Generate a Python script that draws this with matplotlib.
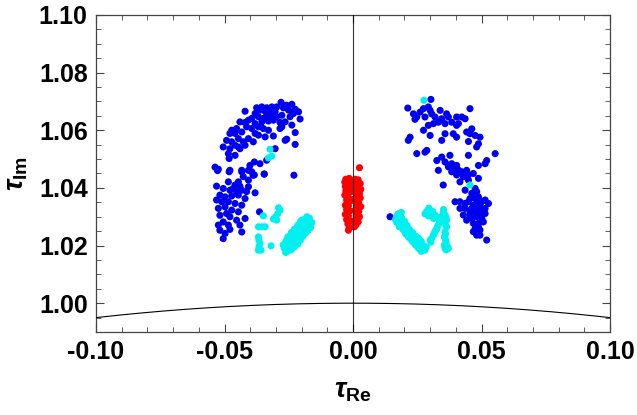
import numpy as np
import matplotlib
matplotlib.use("Agg")
import matplotlib.pyplot as plt
from matplotlib.ticker import MultipleLocator, FormatStrFormatter

plt.rcParams["font.family"] = ["Liberation Sans", "DejaVu Sans"]
plt.rcParams["mathtext.fontset"] = "custom"
plt.rcParams["mathtext.it"] = "Liberation Sans:italic:bold"
plt.rcParams["mathtext.rm"] = "Liberation Sans:bold"
plt.rcParams["mathtext.bf"] = "Liberation Sans:bold"

# (tau_Re, tau_Im) samples, one list per class
blue_pts = [
    # left arc
    (-0.0280, 1.0697), (-0.0238, 1.0690), (-0.0259, 1.0687), (-0.0297, 1.0681), (-0.0271, 1.0678),
    (-0.0316, 1.0681), (-0.0336, 1.0678), (-0.0355, 1.0681), (-0.0375, 1.0678), (-0.0420, 1.0666),
    (-0.0251, 1.0670), (-0.0225, 1.0673), (-0.0212, 1.0664), (-0.0232, 1.0658), (-0.0303, 1.0664),
    (-0.0323, 1.0670), (-0.0342, 1.0666), (-0.0362, 1.0670), (-0.0381, 1.0658), (-0.0394, 1.0641),
    (-0.0368, 1.0647), (-0.0349, 1.0641), (-0.0336, 1.0652), (-0.0316, 1.0652), (-0.0297, 1.0647),
    (-0.0277, 1.0652), (-0.0245, 1.0647), (-0.0206, 1.0639), (-0.0264, 1.0629), (-0.0284, 1.0627),
    (-0.0310, 1.0635), (-0.0329, 1.0632), (-0.0355, 1.0629), (-0.0381, 1.0623), (-0.0407, 1.0635),
    (-0.0420, 1.0627), (-0.0440, 1.0629), (-0.0453, 1.0606), (-0.0472, 1.0600), (-0.0479, 1.0589),
    (-0.0459, 1.0589), (-0.0433, 1.0594), (-0.0414, 1.0612), (-0.0394, 1.0606), (-0.0368, 1.0612),
    (-0.0349, 1.0606), (-0.0329, 1.0600), (-0.0310, 1.0580), (-0.0277, 1.0612), (-0.0238, 1.0618),
    (-0.0225, 1.0592), (-0.0258, 1.0569), (-0.0284, 1.0606), (-0.0446, 1.0571), (-0.0427, 1.0560),
    (-0.0407, 1.0571), (-0.0388, 1.0560), (-0.0420, 1.0548), (-0.0446, 1.0542), (-0.0472, 1.0560),
    (-0.0492, 1.0565), (-0.0505, 1.0542), (-0.0479, 1.0536), (-0.0459, 1.0548), (-0.0440, 1.0536),
    (-0.0368, 1.0583), (-0.0342, 1.0577), (-0.0381, 1.0589), (-0.0485, 1.0519), (-0.0459, 1.0513),
    (-0.0482, 1.0502), (-0.0303, 1.0536), (-0.0225, 1.0551), (-0.0264, 1.0565),
    (-0.0336, 1.0496), (-0.0362, 1.0484), (-0.0384, 1.0490), (-0.0401, 1.0478), (-0.0407, 1.0461),
    (-0.0433, 1.0461), (-0.0479, 1.0461), (-0.0524, 1.0465), (-0.0230, 1.0444),
    (-0.0537, 1.0472), (-0.0346, 1.0448), (-0.0389, 1.0444),
    # left column
    (-0.0527, 1.0460), (-0.0482, 1.0456), (-0.0433, 1.0456), (-0.0394, 1.0456), (-0.0384, 1.0445),
    (-0.0345, 1.0448), (-0.0407, 1.0427), (-0.0427, 1.0439), (-0.0446, 1.0421), (-0.0459, 1.0410),
    (-0.0485, 1.0421), (-0.0531, 1.0406), (-0.0505, 1.0398), (-0.0479, 1.0392), (-0.0453, 1.0387),
    (-0.0433, 1.0392), (-0.0414, 1.0387), (-0.0381, 1.0383), (-0.0407, 1.0404), (-0.0440, 1.0406),
    (-0.0466, 1.0398), (-0.0518, 1.0375), (-0.0498, 1.0369), (-0.0472, 1.0372), (-0.0446, 1.0375),
    (-0.0420, 1.0363), (-0.0531, 1.0358), (-0.0511, 1.0352), (-0.0485, 1.0352), (-0.0459, 1.0346),
    (-0.0433, 1.0340), (-0.0498, 1.0334), (-0.0524, 1.0329), (-0.0472, 1.0323), (-0.0446, 1.0317),
    (-0.0420, 1.0294), (-0.0492, 1.0311), (-0.0518, 1.0305), (-0.0479, 1.0300), (-0.0453, 1.0288),
    (-0.0505, 1.0282), (-0.0524, 1.0271), (-0.0485, 1.0271), (-0.0440, 1.0271), (-0.0518, 1.0253),
    (-0.0498, 1.0242), (-0.0479, 1.0256), (-0.0433, 1.0247), (-0.0505, 1.0224), (-0.0364, 1.0317),
    # right arc
    (0.0303, 1.0707), (0.0213, 1.0677), (0.0235, 1.0657), (0.0248, 1.0646), (0.0261, 1.0663),
    (0.0274, 1.0675), (0.0293, 1.0681), (0.0241, 1.0638), (0.0280, 1.0646), (0.0300, 1.0669),
    (0.0306, 1.0657), (0.0319, 1.0646), (0.0339, 1.0669), (0.0364, 1.0657), (0.0371, 1.0646),
    (0.0345, 1.0640), (0.0358, 1.0623), (0.0332, 1.0628), (0.0313, 1.0623), (0.0293, 1.0617),
    (0.0384, 1.0628), (0.0403, 1.0646), (0.0423, 1.0646), (0.0436, 1.0640), (0.0410, 1.0623),
    (0.0455, 1.0675), (0.0442, 1.0594), (0.0462, 1.0605), (0.0455, 1.0588), (0.0475, 1.0582),
    (0.0494, 1.0576), (0.0449, 1.0561), (0.0488, 1.0553), (0.0481, 1.0542), (0.0390, 1.0588),
    (0.0403, 1.0576), (0.0358, 1.0588), (0.0300, 1.0582), (0.0222, 1.0576), (0.0215, 1.0565),
    (0.0274, 1.0600), (0.0345, 1.0565), (0.0287, 1.0530), (0.0280, 1.0524), (0.0248, 1.0519),
    (0.0326, 1.0495), (0.0345, 1.0507), (0.0377, 1.0513), (0.0358, 1.0490), (0.0384, 1.0484),
    (0.0403, 1.0478), (0.0371, 1.0473), (0.0390, 1.0467), (0.0449, 1.0513), (0.0488, 1.0478),
    (0.0520, 1.0495), (0.0514, 1.0484), (0.0553, 1.0519), (0.0442, 1.0461), (0.0332, 1.0461),
    (0.0403, 1.0617),
    # right column
    (0.0371, 1.0479), (0.0390, 1.0473), (0.0410, 1.0462), (0.0423, 1.0456), (0.0442, 1.0454),
    (0.0468, 1.0450), (0.0488, 1.0433), (0.0429, 1.0439), (0.0403, 1.0445), (0.0384, 1.0456),
    (0.0449, 1.0427), (0.0416, 1.0421), (0.0351, 1.0410), (0.0475, 1.0398), (0.0481, 1.0387),
    (0.0436, 1.0392), (0.0462, 1.0381), (0.0488, 1.0369), (0.0475, 1.0363), (0.0501, 1.0352),
    (0.0514, 1.0358), (0.0527, 1.0346), (0.0494, 1.0335), (0.0468, 1.0340), (0.0449, 1.0352),
    (0.0436, 1.0346), (0.0416, 1.0352), (0.0397, 1.0352), (0.0416, 1.0329), (0.0436, 1.0329),
    (0.0455, 1.0317), (0.0475, 1.0317), (0.0494, 1.0317), (0.0514, 1.0329), (0.0514, 1.0311),
    (0.0481, 1.0300), (0.0501, 1.0294), (0.0462, 1.0294), (0.0429, 1.0306), (0.0442, 1.0288),
    (0.0468, 1.0277), (0.0488, 1.0277), (0.0507, 1.0282), (0.0475, 1.0259), (0.0494, 1.0254),
    (0.0481, 1.0236), (0.0520, 1.0219), (0.0449, 1.0445), (0.0455, 1.0363), (0.0488, 1.0352),
    (0.0475, 1.0329), (0.0501, 1.0306), (0.0455, 1.0306), (0.0488, 1.0265), (0.0468, 1.0248),
    (0.0494, 1.0236), (0.0462, 1.0329), (0.0144, 1.0300),
]

cyan_pts = [
    (-0.0323, 1.0534), (-0.0316, 1.0510), (-0.0329, 1.0504),
    # left small pieces
    (-0.0349, 1.0303), (-0.0290, 1.0331), (-0.0284, 1.0323), (-0.0293, 1.0311), (-0.0301, 1.0300),
    (-0.0310, 1.0292), (-0.0297, 1.0288), (-0.0368, 1.0265), (-0.0355, 1.0265), (-0.0342, 1.0265),
    (-0.0368, 1.0230), (-0.0366, 1.0219), (-0.0362, 1.0207), (-0.0366, 1.0196), (-0.0368, 1.0184),
    (-0.0358, 1.0184), (-0.0319, 1.0199),
    # left elongated blob
    (-0.0187, 1.0292), (-0.0174, 1.0282), (-0.0180, 1.0271), (-0.0193, 1.0265), (-0.0200, 1.0277),
    (-0.0213, 1.0265), (-0.0206, 1.0254), (-0.0226, 1.0248), (-0.0219, 1.0236), (-0.0239, 1.0236),
    (-0.0245, 1.0225), (-0.0232, 1.0219), (-0.0258, 1.0219), (-0.0252, 1.0207), (-0.0265, 1.0196),
    (-0.0239, 1.0201), (-0.0226, 1.0213), (-0.0213, 1.0230), (-0.0200, 1.0248), (-0.0187, 1.0259),
    (-0.0174, 1.0265), (-0.0258, 1.0184), (-0.0245, 1.0190), (-0.0254, 1.0230), (-0.0200, 1.0288),
    (-0.0167, 1.0273), (-0.0219, 1.0259), (-0.0232, 1.0230), (-0.0249, 1.0213), (-0.0193, 1.0254),
    (-0.0206, 1.0271), (-0.0180, 1.0285), (-0.0267, 1.0190),
    (-0.0255, 1.0180), (-0.0240, 1.0185), (-0.0228, 1.0195), (-0.0215, 1.0205), (-0.0205, 1.0218),
    (-0.0195, 1.0232), (-0.0185, 1.0243), (-0.0175, 1.0252), (-0.0165, 1.0262), (-0.0160, 1.0280),
    (-0.0170, 1.0295), (-0.0180, 1.0300), (-0.0272, 1.0202), (-0.0262, 1.0212), (-0.0250, 1.0224),
    (-0.0240, 1.0245), (-0.0228, 1.0257), (-0.0215, 1.0270), (-0.0205, 1.0283), (-0.0262, 1.0176),
    (-0.0235, 1.0210), (-0.0222, 1.0225), (-0.0210, 1.0240), (-0.0198, 1.0262), (-0.0190, 1.0275),
    # right elongated blob
    (0.0170, 1.0300), (0.0183, 1.0294), (0.0176, 1.0282), (0.0196, 1.0282), (0.0189, 1.0271),
    (0.0202, 1.0265), (0.0209, 1.0254), (0.0215, 1.0259), (0.0222, 1.0242), (0.0228, 1.0236),
    (0.0235, 1.0225), (0.0241, 1.0230), (0.0248, 1.0213), (0.0254, 1.0219), (0.0261, 1.0201),
    (0.0274, 1.0192), (0.0280, 1.0184), (0.0222, 1.0225), (0.0202, 1.0248), (0.0239, 1.0207),
    (0.0267, 1.0207), (0.0183, 1.0306),
    (0.0165, 1.0290), (0.0175, 1.0310), (0.0190, 1.0295), (0.0200, 1.0285), (0.0210, 1.0270),
    (0.0220, 1.0255), (0.0232, 1.0245), (0.0245, 1.0232), (0.0255, 1.0225), (0.0265, 1.0215),
    (0.0272, 1.0200), (0.0285, 1.0195), (0.0180, 1.0265), (0.0195, 1.0255), (0.0205, 1.0240),
    (0.0215, 1.0230), (0.0230, 1.0215), (0.0245, 1.0200), (0.0255, 1.0190), (0.0265, 1.0180),
    (0.0170, 1.0280), (0.0188, 1.0315),
    # right smaller pieces
    (0.0287, 1.0319), (0.0300, 1.0323), (0.0306, 1.0311), (0.0319, 1.0306), (0.0332, 1.0294),
    (0.0345, 1.0300), (0.0351, 1.0317), (0.0358, 1.0306), (0.0293, 1.0303), (0.0313, 1.0294),
    (0.0338, 1.0282), (0.0364, 1.0288),
    (0.0295, 1.0330), (0.0310, 1.0318), (0.0325, 1.0300), (0.0340, 1.0290), (0.0350, 1.0305),
    (0.0362, 1.0298), (0.0352, 1.0325), (0.0280, 1.0310),
    (0.0332, 1.0271), (0.0326, 1.0259), (0.0319, 1.0248), (0.0313, 1.0236), (0.0306, 1.0225),
    (0.0300, 1.0219), (0.0358, 1.0277), (0.0364, 1.0265), (0.0358, 1.0248), (0.0355, 1.0230),
    (0.0362, 1.0213), (0.0364, 1.0201), (0.0371, 1.0190), (0.0355, 1.0201), (0.0358, 1.0190),
    (0.0328, 1.0265), (0.0322, 1.0252), (0.0316, 1.0242), (0.0303, 1.0212), (0.0360, 1.0240),
    (0.0360, 1.0220), (0.0368, 1.0195), (0.0362, 1.0185),
    (0.0276, 1.0704), (0.0455, 1.0410),
]

red_pts = [
    (-0.0028, 1.0430), (-0.0015, 1.0433), (0.0008, 1.0430), (0.0020, 1.0428), (0.0025, 1.0470),
    (-0.0032, 1.0420), (-0.0020, 1.0418), (-0.0010, 1.0415), (0.0012, 1.0418), (0.0028, 1.0415),
    (-0.0030, 1.0405), (-0.0018, 1.0400), (0.0005, 1.0405), (0.0020, 1.0400), (0.0030, 1.0395),
    (-0.0028, 1.0390), (-0.0012, 1.0385), (0.0010, 1.0388), (0.0025, 1.0380), (-0.0032, 1.0375),
    (-0.0020, 1.0370), (0.0015, 1.0370), (0.0028, 1.0365), (-0.0025, 1.0358), (-0.0010, 1.0355),
    (0.0008, 1.0355), (0.0022, 1.0350), (-0.0030, 1.0340), (-0.0018, 1.0338), (0.0015, 1.0338),
    (0.0030, 1.0335), (-0.0025, 1.0325), (-0.0012, 1.0320), (0.0008, 1.0322), (0.0022, 1.0318),
    (-0.0030, 1.0308), (-0.0018, 1.0302), (0.0012, 1.0305), (0.0025, 1.0300), (-0.0025, 1.0290),
    (-0.0010, 1.0285), (0.0008, 1.0288), (0.0020, 1.0282), (-0.0020, 1.0275), (0.0012, 1.0272),
    (-0.0015, 1.0262), (0.0005, 1.0265), (-0.0018, 1.0253), (0.0018, 1.0292), (-0.0005, 1.0395),
    (0.0000, 1.0360),
]

x_lim = (-0.10, 0.10)
y_lim = (0.99, 1.10)

fig = plt.figure(figsize=(6.37, 4.15), dpi=100)
ax = fig.add_axes([0.1507, 0.2, 0.807, 0.7639])

for pts, col in [(blue_pts, "#0000ee"), (cyan_pts, "#00f0f0"), (red_pts, "#ff0000")]:
    arr = np.array(pts)
    ax.scatter(arr[:, 0], arr[:, 1], s=26, color=col, edgecolors="none", zorder=2)

# |tau| = 1 boundary and the imaginary axis
xs = np.linspace(x_lim[0], x_lim[1], 400)
ax.plot(xs, np.sqrt(1 - xs**2), color="black", lw=0.8, zorder=3)
ax.axvline(0, color="black", lw=0.8, alpha=0.8, zorder=3)

ax.set_xlim(*x_lim)
ax.set_ylim(*y_lim)
ax.xaxis.set_major_locator(MultipleLocator(0.05))
ax.xaxis.set_minor_locator(MultipleLocator(0.01))
ax.yaxis.set_major_locator(MultipleLocator(0.02))
ax.yaxis.set_minor_locator(MultipleLocator(0.005))
ax.xaxis.set_major_formatter(FormatStrFormatter("%.2f"))
ax.yaxis.set_major_formatter(FormatStrFormatter("%.2f"))
ax.tick_params(which="both", direction="in", top=True, right=True, color="#444444")
ax.tick_params(which="major", length=6, width=0.8, labelsize=18, pad=6)
ax.tick_params(which="minor", length=3.5, width=0.6)
for lbl in ax.get_xticklabels() + ax.get_yticklabels():
    lbl.set_fontweight("bold")
for sp in ax.spines.values():
    sp.set_color("#444444")
    sp.set_linewidth(0.9)

ax.set_xlabel(r"$\tau_{\mathrm{Re}}$", fontsize=20, labelpad=10)
ax.set_ylabel(r"$\tau_{\mathrm{Im}}$", fontsize=20, labelpad=6)

fig.savefig("out.png", dpi=100)
